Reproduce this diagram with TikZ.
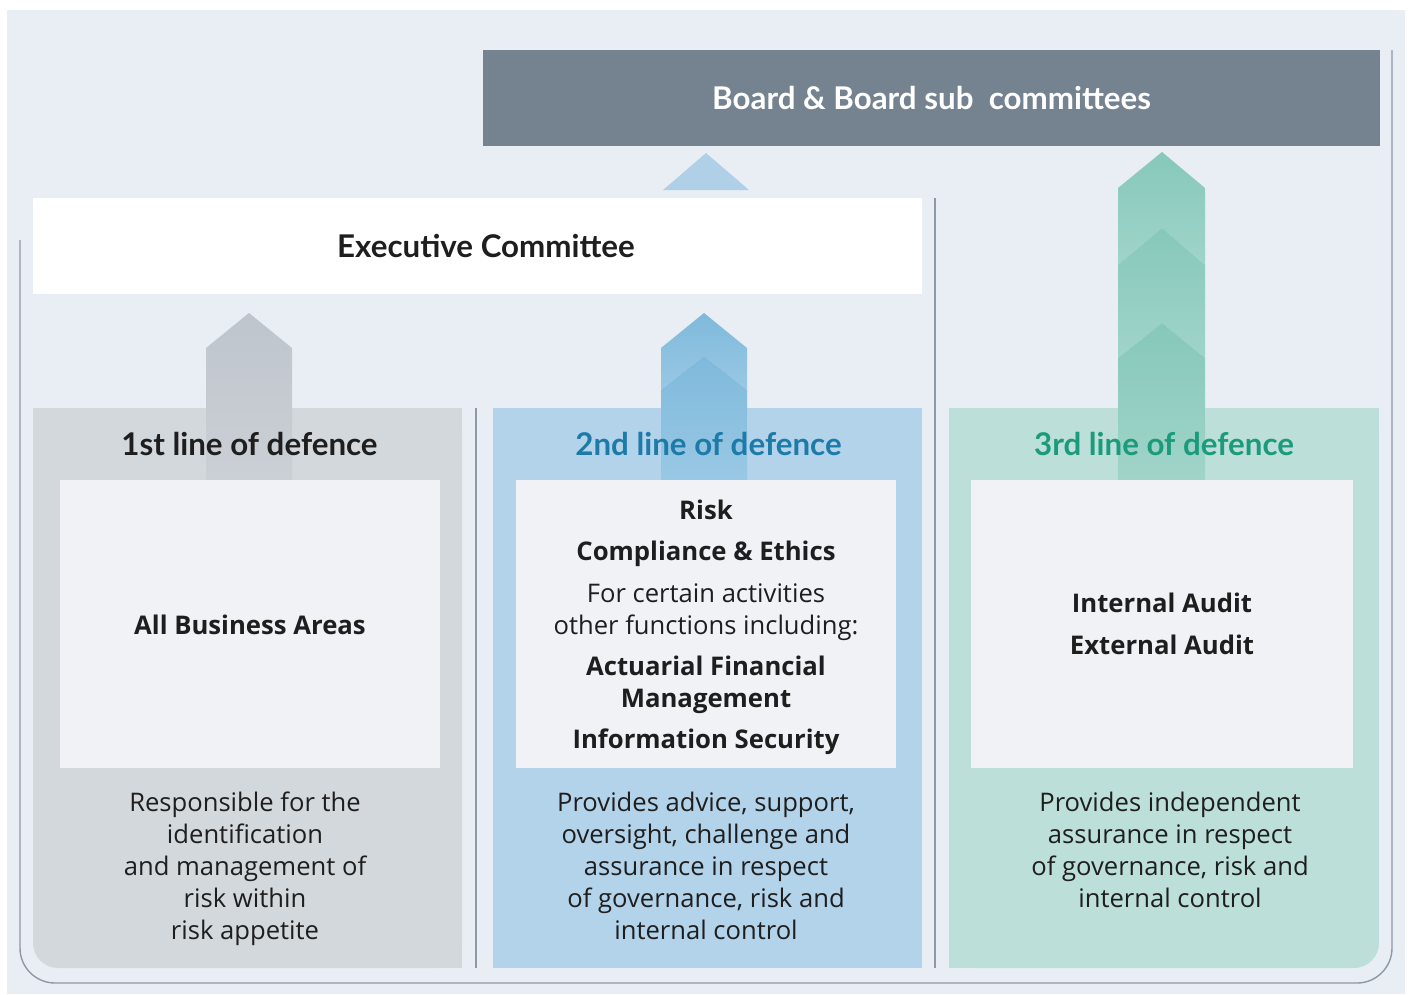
\documentclass[tikz,border=0pt]{standalone}
\usepackage{fontspec}
\setmainfont{Open Sans}
\newfontfamily\headfont{Lato}
\definecolor{bgc}{HTML}{E9EEF5}
\definecolor{linec}{HTML}{8E99A4}
\definecolor{boardc}{HTML}{74838F}
\definecolor{tric}{HTML}{B0D0E8}
\definecolor{colA}{HTML}{D3D8DD}
\definecolor{colB}{HTML}{B3D3EA}
\definecolor{colC}{HTML}{BCE0D9}
\definecolor{innerc}{HTML}{F0F2F5}
\definecolor{txtc}{HTML}{1E1E1E}
\definecolor{headB}{HTML}{1C7BA8}
\definecolor{headC}{HTML}{1B9B7B}
\definecolor{arAt}{HTML}{BFC5CC}
\definecolor{arAb}{HTML}{CBD0D6}
\definecolor{arBt}{HTML}{7FB9DB}
\definecolor{arBb}{HTML}{99C8E4}
\definecolor{arCt}{HTML}{86C8BA}
\definecolor{arCb}{HTML}{A0D4C9}
\begin{document}
\begin{tikzpicture}[x=1pt,y=-1pt,
  body/.style={font=\fontsize{25.6}{32}\selectfont, align=center, text=txtc, inner sep=0pt},
  bodyb/.style={font=\fontsize{25.7}{32}\selectfont\bfseries, align=center, text=txtc, inner sep=0pt},
  head/.style={font=\headfont\bfseries\fontsize{31.3}{36}\selectfont, inner sep=0pt},
  panel/.style={fill=innerc, inner sep=0pt, anchor=north west},
  divider/.style={draw=linec, line width=1.4pt}]
\useasboundingbox (0,0) rectangle (1411,994);
\fill[white] (0,0) rectangle (1411,994);
\fill[bgc] (7,10) rectangle (1405,994);
% outer frame
\draw[linec, line width=1.4pt, rounded corners=35pt] (20,240) -- (20,983) -- (1392,983) -- (1392,50);
% dividers
\coordinate (d1t) at (476,408); \coordinate (d1b) at (476,968);
\coordinate (d2t) at (935,198); \coordinate (d2b) at (935,968);
\draw[divider] (d1t) -- (d1b);
\draw[divider] (d2t) -- (d2b);
% board
\node[fill=boardc, minimum width=897pt, minimum height=96pt, inner sep=0pt,
  text=white, font=\headfont\bfseries\fontsize{31.3}{36}\selectfont] (board) at (931.5,98) {Board \& Board sub\ \ committees};
% small triangle
\fill[tric] (663,190) -- (706,153) -- (749,190) -- cycle;
% executive committee
\node[fill=white, minimum width=889pt, minimum height=96pt, inner sep=0pt] (exec) at (477.5,246) {};
\node[head, text=txtc] (exectext) at (486,246) {Executive Committee};
% columns
\fill[colA, rounded corners=25pt] (33,408) rectangle (462,968);
\fill[colA] (33,408) rectangle (462,930);
\fill[colA] (80,408) rectangle (462,968);
\fill[colB] (493,408) rectangle (922,968);
\fill[colC, rounded corners=25pt] (949,408) rectangle (1379,968);
\fill[colC] (949,408) rectangle (1379,930);
\fill[colC] (949,408) rectangle (1330,968);
% arrows
\shade[top color=arAt, bottom color=arAb] (206,480) -- (206,348) -- (249,313) -- (292,348) -- (292,480) -- cycle;
\shade[top color=arBt, bottom color=arBb] (661,390) -- (661,348) -- (704,313) -- (747,348) -- (747,390) -- (704,356) -- cycle;
\shade[top color=arBt, bottom color=arBb] (661,480) -- (661,390) -- (704,356) -- (747,390) -- (747,480) -- cycle;
\shade[top color=arCt, bottom color=arCb] (1118,265) -- (1118,188) -- (1162,152) -- (1205,188) -- (1205,265) -- (1162,228) -- cycle;
\shade[top color=arCt, bottom color=arCb] (1118,358) -- (1118,265) -- (1162,228) -- (1205,265) -- (1205,358) -- (1162,323) -- cycle;
\shade[top color=arCt, bottom color=arCb] (1118,480) -- (1118,358) -- (1162,323) -- (1205,358) -- (1205,480) -- cycle;
% headers
\node[head, text=txtc] (h1) at (249.5,444) {1st line of defence};
\node[head, text=headB] (h2) at (708.5,444) {2nd line of defence};
\node[head, text=headC] (h3) at (1164,444) {3rd line of defence};
% inner panels
\node[panel, minimum width=380pt, minimum height=288pt] (p1) at (60,480) {};
\node[panel, minimum width=380pt, minimum height=288pt] (p2) at (516,480) {};
\node[panel, minimum width=382pt, minimum height=288pt] (p3) at (971,480) {};
% panel texts
\node[bodyb] (t1) at (250,625) {All Business Areas};
\node[bodyb] (t2a) at (706,510) {Risk};
\node[bodyb] (t2b) at (706,554) {Compliance \& Ethics};
\node[body] (t2c) at (706,612) {For certain activities\\other functions including:};
\node[bodyb] (t2d) at (706,685) {Actuarial Financial\\Management};
\node[bodyb] (t2e) at (706,742) {Information Security};
\node[bodyb, font=\fontsize{25.7}{42}\selectfont\bfseries] (t3) at (1162,624) {Internal Audit\\External Audit};
% descriptions
\node[body] (x1) at (245,869) {Responsible for the\\identification\\and management of\\risk within\\risk appetite};
\node[body] (x2) at (706,866) {Provides advice, support,\\oversight, challenge and\\assurance in respect\\of governance, risk and\\internal control};
\node[body] (x3) at (1170,850) {Provides independent\\assurance in respect\\of governance, risk and\\internal control};
\end{tikzpicture}
\end{document}
